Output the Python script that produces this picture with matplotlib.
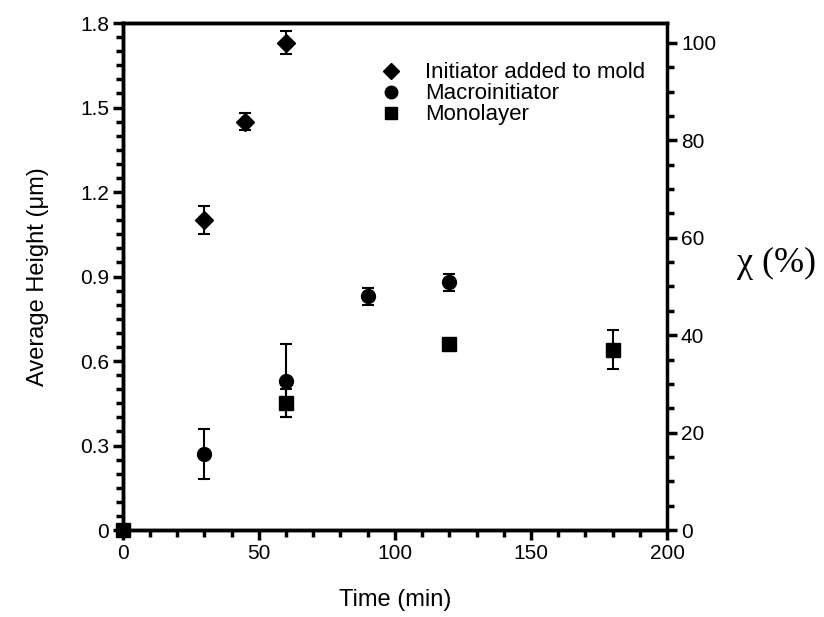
import matplotlib
matplotlib.use("Agg")
import matplotlib.pyplot as plt
from matplotlib.ticker import MultipleLocator
from matplotlib.lines import Line2D

plt.rcParams['font.family'] = ['Liberation Sans', 'DejaVu Sans']

# Data
t_init = [30, 45, 60]
h_init = [1.10, 1.45, 1.73]
e_init = [0.05, 0.03, 0.04]

t_macro = [0, 30, 60, 90, 120]
h_macro = [0.0, 0.27, 0.53, 0.83, 0.88]
e_macro = [0.0, 0.09, 0.13, 0.03, 0.03]

t_mono = [0, 60, 120, 180]
h_mono = [0.0, 0.45, 0.66, 0.64]
e_mono = [0.0, 0.05, 0.0, 0.07]

labels = ["Initiator added to mold", "Macroinitiator", "Monolayer"]
x_ticks = [0, 50, 100, 150, 200]
y_ticks = [0, 0.3, 0.6, 0.9, 1.2, 1.5, 1.8]
y_ticklabels = ["0", "0.3", "0.6", "0.9", "1.2", "1.5", "1.8"]
y2_ticks = [0, 20, 40, 60, 80, 100]

fig = plt.figure(figsize=(8.24, 6.17), dpi=100)
ax = fig.add_axes([0.149, 0.141, 0.6605, 0.8217])

ekw = dict(ecolor='black', elinewidth=1.5, capsize=4, capthick=1.5, linestyle='none', clip_on=False)
ax.errorbar(t_init, h_init, yerr=e_init, marker='D', ms=9, color='black', **ekw)
ax.errorbar(t_macro, h_macro, yerr=e_macro, marker='o', ms=10, color='black', **ekw)
ax.errorbar(t_mono, h_mono, yerr=e_mono, marker='s', ms=10, color='black', **ekw)

ax.set_xlim(0, 200)
ax.set_ylim(0, 1.8)
ax.set_xticks(x_ticks)
ax.set_yticks(y_ticks)
ax.set_yticklabels(y_ticklabels)
ax.xaxis.set_minor_locator(MultipleLocator(10))
ax.yaxis.set_minor_locator(MultipleLocator(0.05))
ax.tick_params(which='major', direction='out', length=7, width=2.5, labelsize=15, pad=3)
ax.tick_params(which='minor', direction='out', length=5, width=2.5)
ax.tick_params(right=False, top=False, which='both')
for s in ax.spines.values():
    s.set_linewidth(2.5)
ax.spines['right'].set_visible(False)

ax.set_xlabel("Time (min)", fontsize=17, labelpad=19)
ax.set_ylabel("Average Height (\u03bcm)", fontsize=17, labelpad=22)

ax2 = ax.twinx()
ax2.set_ylim(0, 104.1)
ax2.set_yticks(y2_ticks)
ax2.yaxis.set_minor_locator(MultipleLocator(5))
ax2.tick_params(which='major', direction='out', length=7, width=2.5, labelsize=15, pad=3)
ax2.tick_params(which='minor', direction='out', length=5, width=2.5)
for s in ax2.spines.values():
    s.set_linewidth(2.5)
ax2.set_ylabel("\u03c7 (%)", fontsize=26, rotation=0, family=['Liberation Serif', 'DejaVu Serif'],
               va='center', ha='center')
ax2.yaxis.set_label_coords(1.202, 0.525)

handles = [Line2D([], [], marker='D', ms=8, color='black', linestyle='none'),
           Line2D([], [], marker='o', ms=9, color='black', linestyle='none'),
           Line2D([], [], marker='s', ms=9, color='black', linestyle='none')]
ax.legend(handles, labels, loc='upper left', bbox_to_anchor=(0.457, 0.94), frameon=False, fontsize=16,
          handlelength=1.0, handletextpad=1.0, labelspacing=0.0, borderaxespad=0)

fig.savefig("out.png", dpi=100)
